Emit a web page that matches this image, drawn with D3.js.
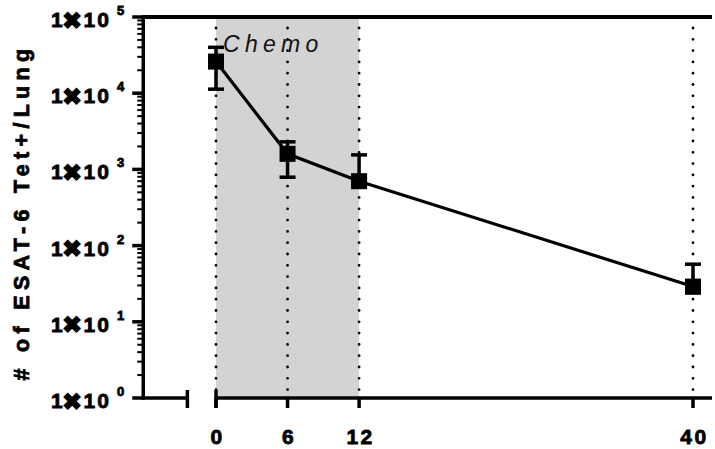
<!DOCTYPE html>
<html><head><meta charset="utf-8">
<script src="https://cdn.jsdelivr.net/npm/d3@7"></script>
<style>
html,body{margin:0;padding:0;background:#fff;}
text{font-family:"Liberation Sans",Arial,sans-serif;}
.heavy{stroke:#000;stroke-width:0.8px;paint-order:stroke;}
.cross{font-family:"DejaVu Sans",sans-serif;stroke:#000;stroke-width:1.2px;}
</style></head>
<body><svg id="c" width="715" height="449"></svg>
<script>
const weeks = [0, 6, 12, 40];
const means = [26000, 1600, 700, 29];
const errUpper = [40000, 2300, 1550, 57];
const errLower = [11300, 790, 620, 24];
const xTicks = [0, 6, 12, 40];
const yTicks = [1, 10, 100, 1000, 10000, 100000];
const yExponents = ["0", "1", "2", "3", "4", "5"];
const chemoPeriod = [0, 12];
const chemoLabel = "Chemo";
const axisTitle = "# of ESAT-6 Tet+/Lung";
const xDomain = [0, 40];
const xBreakSegment = [-6.1, -2.4];

const svg = d3.select("#c");
const x = d3.scaleLinear().domain(xDomain).range([216, 693]);
const y = d3.scaleLog().domain([1, 100000]).range([398, 17]);
const x0 = x(xBreakSegment[0]);
const xRight = 712;

// shaded chemo region
svg.append("rect")
  .attr("x", x(chemoPeriod[0])).attr("y", y(100000) + 2)
  .attr("width", x(chemoPeriod[1]) - x(chemoPeriod[0]))
  .attr("height", y(1) - y(100000) - 2)
  .attr("fill", "#d3d3d3");

// dotted vertical lines
svg.selectAll(".dot").data(weeks).enter().append("line")
  .attr("x1", d => x(d)).attr("x2", d => x(d))
  .attr("y1", y(100000) + 11).attr("y2", y(1) - 2)
  .attr("stroke", "#000").attr("stroke-width", 2.8)
  .attr("stroke-linecap", "round").attr("stroke-dasharray", "0 11.3");

// chemo label
svg.append("text").attr("x", x(chemoPeriod[0]) + 7).attr("y", 52)
  .attr("font-size", 23).attr("font-style", "italic")
  .attr("letter-spacing", 5.3).attr("fill", "#111").text(chemoLabel);

// top border
svg.append("line").attr("x1", x0 - 1.5).attr("x2", xRight)
  .attr("y1", y(100000)).attr("y2", y(100000))
  .attr("stroke", "#000").attr("stroke-width", 4);

// y axis
svg.append("line").attr("x1", x0).attr("x2", x0)
  .attr("y1", y(100000)).attr("y2", y(1) + 1.5)
  .attr("stroke", "#000").attr("stroke-width", 3.5);
// minor ticks
const minor = [];
for (let e = 0; e < 5; e++) for (let m = 2; m <= 9; m++) minor.push(m * Math.pow(10, e));
svg.selectAll(".mt").data(minor).enter().append("line")
  .attr("x1", x0 - 6).attr("x2", x0)
  .attr("y1", d => y(d)).attr("y2", d => y(d))
  .attr("stroke", "#000").attr("stroke-width", 2);
svg.selectAll(".Mt").data(yTicks).enter().append("line")
  .attr("x1", x0 - 11).attr("x2", x0)
  .attr("y1", d => y(d)).attr("y2", d => y(d))
  .attr("stroke", "#000").attr("stroke-width", 3.5);
// y tick labels
const yl = svg.selectAll(".yl").data(yTicks).enter().append("g")
  .attr("font-weight", "bold").attr("fill", "#000");
yl.append("text").attr("class", "heavy").attr("x", 51).attr("y", d => y(d) + 10).attr("font-size", 21).text("1");
yl.append("text").attr("class", "cross").attr("x", 62).attr("y", d => y(d) + 11.5)
  .attr("font-size", 24).attr("font-weight", "normal").text("\u2716");
yl.append("text").attr("class", "heavy").attr("x", 83.5).attr("y", d => y(d) + 10).attr("font-size", 21)
  .attr("letter-spacing", 2).text("10");
yl.append("text").attr("class", "heavy").attr("x", 117).attr("y", d => y(d) - 2).attr("font-size", 13)
  .attr("stroke-width", 0.5).text((d, i) => yExponents[i]);

// y axis title
svg.append("text").attr("class", "heavy").attr("transform", "translate(29,212) rotate(-90)")
  .attr("text-anchor", "middle").attr("font-weight", "bold").attr("font-size", 21.5)
  .attr("letter-spacing", 5.3).text(axisTitle);

// x axis (left segment + main)
svg.append("line").attr("x1", x0 - 1.5).attr("x2", x(xBreakSegment[1]))
  .attr("y1", y(1)).attr("y2", y(1)).attr("stroke", "#000").attr("stroke-width", 3.5);
svg.append("line").attr("x1", x(xDomain[0])).attr("x2", xRight)
  .attr("y1", y(1)).attr("y2", y(1)).attr("stroke", "#000").attr("stroke-width", 3.5);
// break markers
svg.selectAll(".br").data([xBreakSegment[1], xDomain[0]]).enter().append("line")
  .attr("x1", d => x(d)).attr("x2", d => x(d))
  .attr("y1", y(1) - 8).attr("y2", y(1) + 10)
  .attr("stroke", "#000").attr("stroke-width", 3.5);
svg.selectAll(".xt").data(xTicks).enter().append("line")
  .attr("x1", d => x(d)).attr("x2", d => x(d))
  .attr("y1", y(1)).attr("y2", y(1) + 10)
  .attr("stroke", "#000").attr("stroke-width", 3.5);
svg.selectAll(".xl").data(xTicks).enter().append("text")
  .attr("class", "heavy")
  .attr("x", d => x(d)).attr("dx", 1.5).attr("y", 444)
  .attr("text-anchor", "middle").attr("font-weight", "bold").attr("font-size", 21)
  .attr("letter-spacing", 2.5).text(d => d);

// data line
const pts = weeks.map((w, i) => [w, means[i]]);
svg.append("path").datum(pts)
  .attr("d", d3.line().x(d => x(d[0])).y(d => y(d[1])))
  .attr("fill", "none").attr("stroke", "#000").attr("stroke-width", 3.2);

// error bars
const eb = svg.selectAll(".eb").data(weeks).enter().append("g");
eb.append("line").attr("x1", d => x(d)).attr("x2", d => x(d))
  .attr("y1", (d, i) => y(errUpper[i])).attr("y2", (d, i) => y(errLower[i]))
  .attr("stroke", "#000").attr("stroke-width", 3.5);
eb.append("line").attr("x1", d => x(d) - 8).attr("x2", d => x(d) + 8)
  .attr("y1", (d, i) => y(errUpper[i])).attr("y2", (d, i) => y(errUpper[i]))
  .attr("stroke", "#000").attr("stroke-width", 3.5);
eb.append("line").attr("x1", d => x(d) - 8).attr("x2", d => x(d) + 8)
  .attr("y1", (d, i) => y(errLower[i])).attr("y2", (d, i) => y(errLower[i]))
  .attr("stroke", "#000").attr("stroke-width", 3.5);

// markers
svg.selectAll(".mk").data(weeks).enter().append("rect")
  .attr("x", d => x(d) - 8).attr("y", (d, i) => y(means[i]) - 8)
  .attr("width", 16).attr("height", 16).attr("fill", "#000");
</script></body></html>
